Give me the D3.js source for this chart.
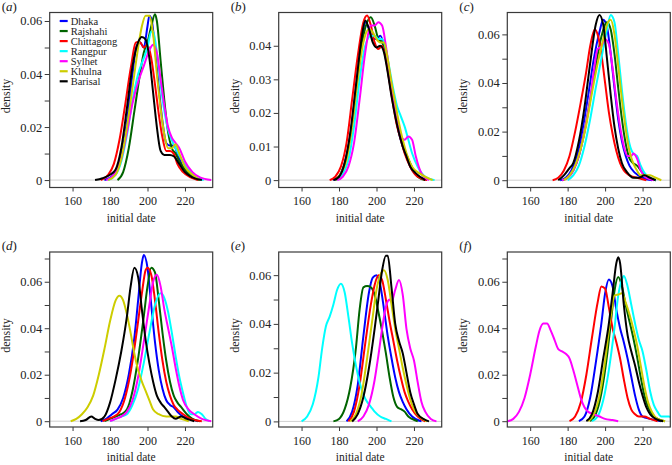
<!DOCTYPE html>
<html><head><meta charset="utf-8">
<script src="https://cdn.jsdelivr.net/npm/d3@7"></script>
<style>body{margin:0;background:#fff}svg{display:block}svg text{font-family:"Liberation Serif","DejaVu Serif",serif !important;fill:#222}</style>
</head><body><svg id="c" width="672" height="465"></svg>
<script>
// ---------------- data ----------------
const regions = ["Dhaka","Rajshahi","Chittagong","Rangpur","Sylhet","Khulna","Barisal"];
const colors = ["#0000ff","#006400","#ff0000","#00ffff","#ff00ff","#cdcd00","#000000"];
const panelLetters = ["a","b","c","d","e","f"];
const xTicks = [160,180,200,220];
const xLimits = [147.8,234.8];
const yLimits = [[-0.0028,0.0632],[-0.0022,0.0499],[-0.003,0.069],[-0.0025,0.0728],[-0.0023,0.0695],[-0.0025,0.0728]];
const yTickMax = [0.06,0.04,0.06,0.07,0.06,0.07];
const yLabelStep = [0.02,0.01,0.02,0.02,0.02,0.02];

// each panel: one [date, density] list per region, in the order of `regions`
const panelA = [
 [[177,0],[182,0.002],[186,0.009],[189,0.022],[192,0.04],[194,0.05],[196,0.052],[198,0.05],[200,0.058],[201,0.062],[202,0.061],[204,0.05],[206,0.035],[208,0.022],[210,0.014],[212,0.013],[214,0.013],[216,0.01],[219,0.005],[223,0.002],[228,0]],
 [[184,0],[187,0.003],[190,0.012],[193,0.026],[196,0.04],[198,0.048],[200,0.052],[202,0.058],[204,0.0625],[205,0.06],[207,0.045],[209,0.03],[211,0.018],[213,0.012],[215,0.01],[217,0.007],[220,0.004],[224,0.001],[228,0]],
 [[175,0],[179,0.002],[182,0.006],[185,0.015],[188,0.028],[191,0.042],[194,0.052],[196,0.052],[198,0.05],[200,0.051],[202,0.046],[204,0.036],[206,0.025],[208,0.016],[210,0.011],[212,0.011],[214,0.01],[216,0.006],[219,0.003],[223,0.001],[227,0]],
 [[179,0],[183,0.002],[186,0.007],[189,0.017],[192,0.03],[195,0.04],[198,0.046],[200,0.05],[202,0.056],[203,0.056],[205,0.048],[207,0.036],[209,0.026],[211,0.019],[213,0.015],[215,0.012],[218,0.008],[222,0.004],[226,0.001],[230,0]],
 [[178,0],[182,0.002],[186,0.008],[189,0.018],[192,0.029],[195,0.037],[198,0.043],[201,0.049],[203,0.051],[205,0.048],[207,0.038],[209,0.028],[211,0.02],[213,0.016],[215,0.014],[217,0.012],[220,0.007],[224,0.003],[228,0.001],[234,0]],
 [[179,0],[183,0.002],[186,0.008],[189,0.02],[192,0.035],[195,0.05],[197,0.058],[199,0.062],[201,0.062],[203,0.055],[205,0.04],[207,0.027],[209,0.017],[211,0.012],[213,0.012],[215,0.0135],[217,0.01],[220,0.005],[224,0.002],[228,0]],
 [[172,0],[176,0.0007],[180,0.002],[183,0.004],[186,0.012],[189,0.027],[192,0.043],[195,0.052],[197,0.054],[199,0.053],[201,0.046],[203,0.033],[205,0.02],[207,0.011],[209,0.0095],[212,0.0095],[214,0.009],[217,0.006],[220,0.003],[224,0.001],[229,0]]
];
const panelB = [
 [[177,0],[180,0.001],[183,0.005],[186,0.013],[189,0.027],[192,0.041],[194,0.047],[196,0.045],[198,0.042],[200,0.042],[202,0.043],[204,0.04],[206,0.033],[208,0.026],[210,0.02],[212,0.014],[214,0.01],[216,0.007],[219,0.003],[223,0.001],[227,0]],
 [[178,0],[181,0.002],[184,0.007],[187,0.017],[190,0.031],[193,0.043],[195,0.047],[197,0.0485],[199,0.046],[201,0.042],[203,0.041],[205,0.038],[207,0.031],[209,0.024],[211,0.018],[213,0.013],[215,0.009],[218,0.005],[222,0.001],[226,0]],
 [[175,0],[178,0.001],[181,0.004],[184,0.011],[187,0.024],[190,0.037],[193,0.047],[195,0.049],[197,0.046],[199,0.041],[201,0.039],[203,0.04],[205,0.036],[207,0.029],[209,0.022],[211,0.016],[213,0.012],[215,0.008],[218,0.004],[222,0.001],[227,0]],
 [[179,0],[182,0.002],[185,0.006],[188,0.016],[191,0.03],[194,0.04],[197,0.043],[199,0.043],[201,0.042],[203,0.042],[205,0.039],[207,0.033],[209,0.027],[211,0.022],[213,0.019],[215,0.016],[217,0.012],[219,0.008],[222,0.004],[226,0.001],[231,0]],
 [[179,0],[182,0.001],[185,0.004],[188,0.011],[191,0.024],[194,0.038],[197,0.046],[199,0.046],[201,0.047],[203,0.046],[205,0.04],[207,0.032],[209,0.025],[211,0.018],[213,0.013],[215,0.012],[217,0.013],[219,0.012],[221,0.007],[224,0.002],[228,0]],
 [[178,0],[181,0.002],[184,0.006],[187,0.016],[190,0.03],[193,0.041],[196,0.045],[198,0.044],[200,0.042],[202,0.041],[204,0.041],[206,0.036],[208,0.029],[210,0.023],[212,0.017],[214,0.012],[216,0.008],[219,0.004],[223,0.002],[230,0]],
 [[177,0],[180,0.001],[183,0.005],[186,0.014],[189,0.028],[192,0.042],[194,0.0475],[196,0.045],[198,0.041],[200,0.0395],[202,0.04],[204,0.038],[206,0.032],[208,0.025],[210,0.019],[212,0.014],[214,0.01],[216,0.007],[218,0.004],[221,0.002],[226,0]]
];
const panelC = [
 [[176,0],[179,0.001],[182,0.004],[185,0.01],[188,0.021],[191,0.035],[194,0.05],[197,0.061],[199,0.066],[201,0.063],[203,0.052],[205,0.038],[207,0.025],[209,0.016],[211,0.01],[213,0.006],[216,0.003],[220,0.001],[225,0]],
 [[177,0],[180,0.001],[183,0.004],[186,0.01],[189,0.02],[192,0.033],[195,0.047],[198,0.059],[201,0.065],[203,0.062],[205,0.052],[207,0.038],[209,0.025],[211,0.015],[213,0.009],[215,0.007],[217,0.006],[220,0.003],[223,0.001],[227,0]],
 [[172,0],[175,0.001],[178,0.004],[181,0.01],[184,0.02],[187,0.032],[190,0.045],[192,0.055],[194.5,0.062],[196,0.06],[198,0.052],[200,0.04],[202,0.028],[204,0.019],[206,0.012],[208,0.007],[210,0.004],[213,0.002],[217,0.001],[222,0]],
 [[180,0],[183,0.002],[186,0.006],[189,0.014],[192,0.025],[195,0.038],[198,0.05],[201,0.062],[203,0.068],[205,0.065],[207,0.052],[209,0.037],[211,0.024],[213,0.015],[215,0.011],[217,0.01],[219,0.006],[221,0.003],[224,0.001],[227,0]],
 [[177,0],[180,0.001],[183,0.004],[186,0.01],[189,0.02],[192,0.033],[194,0.045],[196,0.054],[198,0.055],[200,0.058],[202,0.056],[204,0.046],[206,0.033],[208,0.022],[210,0.014],[212,0.01],[214,0.01],[215,0.011],[217,0.009],[219,0.004],[222,0.001],[226,0]],
 [[178,0],[181,0.002],[184,0.006],[187,0.013],[190,0.023],[193,0.036],[196,0.048],[199,0.058],[201,0.064],[203,0.066],[205,0.06],[207,0.047],[209,0.033],[211,0.021],[213,0.012],[215,0.007],[217,0.004],[219,0.002],[222,0.002],[224,0.002],[227,0.001],[230,0]],
 [[175,0],[178,0.002],[181,0.005],[183,0.007],[186,0.016],[189,0.03],[192,0.048],[195,0.064],[197,0.068],[199,0.064],[201,0.05],[203,0.035],[205,0.022],[207,0.013],[209,0.007],[212,0.003],[215,0.001],[218,0.001],[221,0.002],[224,0.001],[227,0]]
];
const panelD = [
 [[175,0],[178,0.001],[181,0.003],[184,0.005],[187,0.01],[190,0.02],[193,0.036],[195,0.052],[197,0.068],[198,0.0715],[200,0.066],[202,0.05],[204,0.034],[206,0.022],[208,0.014],[210,0.009],[212,0.007],[214,0.006],[216,0.004],[219,0.002],[223,0.001],[227,0]],
 [[177,0],[180,0.001],[183,0.002],[186,0.003],[189,0.005],[192,0.013],[195,0.027],[198,0.045],[200,0.058],[202,0.066],[204,0.064],[206,0.052],[208,0.038],[210,0.026],[212,0.017],[214,0.011],[216,0.008],[218,0.006],[221,0.003],[224,0.001],[228,0]],
 [[176,0],[179,0.001],[182,0.002],[185,0.004],[188,0.01],[191,0.021],[194,0.037],[197,0.055],[199,0.065],[200,0.066],[202,0.063],[204,0.052],[206,0.038],[208,0.026],[210,0.017],[212,0.011],[214,0.007],[216,0.005],[219,0.003],[223,0.001],[229,0]],
 [[180,0],[183,0.001],[186,0.002],[189,0.003],[192,0.007],[195,0.014],[198,0.025],[201,0.038],[204,0.05],[207,0.055],[209,0.053],[211,0.047],[213,0.038],[215,0.028],[217,0.019],[219,0.012],[221,0.006],[223,0.003],[225,0.003],[227,0.004],[229,0.003],[231,0.001],[233,0]],
 [[180,0],[183,0.001],[186,0.002],[189,0.004],[192,0.009],[195,0.019],[198,0.034],[201,0.05],[203,0.06],[205,0.063],[207,0.058],[209,0.048],[211,0.04],[213,0.032],[215,0.023],[217,0.015],[219,0.009],[222,0.005],[225,0.003],[229,0.001],[234,0]],
 [[159,0],[162,0.001],[165,0.003],[168,0.006],[171,0.011],[174,0.02],[177,0.031],[180,0.043],[183,0.052],[185,0.054],[187,0.052],[189,0.046],[191,0.038],[193,0.029],[195,0.022],[197,0.017],[199,0.013],[201,0.009],[203,0.005],[206,0.003],[210,0.002],[215,0.002],[218,0.001],[222,0]],
 [[164,0],[167,0.0005],[170,0.002],[172,0.001],[174,0.0005],[177,0.002],[180,0.008],[183,0.018],[186,0.03],[189,0.045],[191,0.058],[193,0.066],[195,0.062],[197,0.048],[199,0.035],[201,0.025],[203,0.017],[205,0.011],[207,0.008],[209,0.006],[211,0.004],[213,0.002],[215,0.001],[218,0.002],[221,0.001],[225,0]]
];
const panelE = [
 [[184,0],[187,0.004],[190,0.015],[193,0.035],[196,0.053],[198,0.059],[200,0.06],[202,0.056],[204,0.046],[206,0.035],[208,0.026],[210,0.018],[212,0.012],[214,0.008],[216,0.005],[219,0.002],[224,0]],
 [[177,0],[180,0.001],[183,0.005],[186,0.014],[189,0.03],[191,0.046],[193,0.055],[195,0.0555],[197,0.055],[199,0.052],[201,0.045],[203,0.037],[205,0.028],[207,0.018],[209,0.01],[211,0.006],[213,0.005],[215,0.004],[217,0.002],[219,0.001],[222,0]],
 [[185,0],[188,0.004],[191,0.015],[194,0.032],[197,0.048],[199,0.056],[201,0.06],[203,0.058],[205,0.05],[207,0.041],[209,0.033],[211,0.025],[213,0.018],[215,0.012],[217,0.008],[219,0.005],[222,0.002],[226,0]],
 [[160,0],[163,0.002],[166,0.007],[169,0.018],[171,0.03],[173,0.039],[175,0.043],[177,0.048],[179,0.054],[181,0.0565],[183,0.053],[185,0.043],[187,0.032],[189,0.023],[191,0.016],[193,0.011],[195,0.008],[197,0.006],[199,0.004],[202,0.002],[205,0.001],[208,0]],
 [[190,0],[193,0.002],[196,0.007],[199,0.017],[201,0.027],[203,0.038],[205,0.047],[207,0.05],[208,0.049],[210,0.054],[212,0.058],[214,0.052],[216,0.038],[218,0.03],[220,0.025],[222,0.016],[224,0.008],[226,0.004],[229,0.001],[232,0]],
 [[186,0],[189,0.003],[192,0.011],[195,0.026],[198,0.043],[200,0.054],[202,0.06],[204,0.062],[206,0.058],[208,0.048],[210,0.038],[212,0.03],[214,0.022],[216,0.015],[218,0.009],[220,0.005],[223,0.002],[227,0]],
 [[187,0],[190,0.003],[193,0.01],[196,0.022],[199,0.038],[201,0.05],[203,0.062],[205,0.068],[206,0.068],[208,0.055],[210,0.04],[212,0.033],[214,0.028],[216,0.02],[218,0.012],[220,0.007],[222,0.003],[225,0.001],[228,0]]
];
const panelF = [
 [[186,0],[189,0.002],[192,0.01],[195,0.025],[198,0.042],[200,0.055],[202,0.061],[204,0.058],[206,0.048],[208,0.04],[210,0.034],[212,0.027],[214,0.019],[216,0.011],[218,0.005],[220,0.002],[224,0.001],[230,0]],
 [[192,0],[195,0.003],[198,0.012],[201,0.028],[203,0.042],[205,0.056],[207,0.062],[209,0.058],[211,0.05],[213,0.043],[215,0.036],[217,0.028],[219,0.019],[221,0.011],[223,0.006],[225,0.003],[228,0.001],[232,0]],
 [[181,0],[184,0.002],[187,0.008],[190,0.02],[193,0.036],[196,0.051],[198,0.058],[200,0.057],[202,0.049],[204,0.04],[206,0.034],[208,0.027],[210,0.018],[212,0.01],[214,0.005],[216,0.003],[218,0.002],[221,0.002],[224,0.001],[228,0]],
 [[193,0],[196,0.002],[199,0.009],[202,0.022],[205,0.04],[207,0.054],[209,0.061],[210,0.0625],[212,0.058],[214,0.05],[216,0.042],[218,0.035],[220,0.03],[222,0.022],[224,0.013],[226,0.007],[228,0.004],[230,0.002],[232,0.002],[234,0.002],[236,0.0015]],
 [[148,0],[151,0.001],[154,0.004],[157,0.01],[160,0.02],[163,0.032],[165,0.039],[167,0.042],[169,0.042],[171,0.039],[173,0.035],[175,0.031],[177,0.03],[179,0.029],[181,0.027],[183,0.022],[185,0.016],[187,0.01],[189,0.006],[191,0.004],[194,0.003],[197,0.002],[200,0.001],[204,0.0005],[207,0]],
 [[191,0],[194,0.003],[197,0.011],[200,0.026],[203,0.045],[205,0.054],[207,0.0545],[209,0.055],[211,0.051],[213,0.046],[215,0.04],[217,0.033],[219,0.024],[221,0.015],[223,0.008],[225,0.004],[228,0.001],[232,0]],
 [[190,0],[193,0.003],[196,0.012],[199,0.027],[202,0.042],[204,0.055],[206,0.068],[207,0.0705],[208,0.068],[210,0.05],[212,0.037],[214,0.03],[216,0.024],[218,0.017],[220,0.011],[222,0.006],[224,0.003],[227,0.001],[231,0]]
];
const panels = [panelA,panelB,panelC,panelD,panelE,panelF];

// ---------------- layout ----------------
const colLeft = [49.7, 278.7, 507.3];
const rowTop = [12.5, 252];
const boxW = 163, boxH = 175;
const FONT = "'Liberation Serif','DejaVu Serif',serif";

const svg = d3.select("#c");
panels.forEach((series, i) => {
  const col = i % 3, row = Math.floor(i / 3);
  const L = colLeft[col], T = rowTop[row];
  const g = svg.append("g").attr("transform", `translate(${L},${T})`).attr("font-family", FONT);
  const x = d3.scaleLinear().domain(xLimits).range([0, boxW]);
  const y = d3.scaleLinear().domain(yLimits[i]).range([boxH, 0]);

  const cid = "clip" + i;
  g.append("clipPath").attr("id", cid).append("rect").attr("width", boxW).attr("height", boxH);

  // zero reference line
  g.append("line").attr("x1", 0).attr("x2", boxW).attr("y1", y(0)).attr("y2", y(0))
    .attr("stroke", "#cfcfcf").attr("stroke-width", 1);

  const line = d3.line().x(d => x(d[0])).y(d => y(d[1])).curve(d3.curveMonotoneX);
  const plot = g.append("g").attr("clip-path", `url(#${cid})`);
  series.forEach((pts, k) => {
    plot.append("path").attr("d", line(pts)).attr("fill", "none")
      .attr("stroke", colors[k]).attr("stroke-width", 2).attr("stroke-linejoin", "round");
  });

  // box
  g.append("rect").attr("width", boxW).attr("height", boxH).attr("fill", "none")
    .attr("stroke", "#3a3a3a").attr("stroke-width", 1.2);

  // y axis
  const yt = d3.range(0, yTickMax[i] + 1e-9, 0.01).map(v => +v.toFixed(2));
  const step = yLabelStep[i];
  const ya = d3.axisLeft(y).tickValues(yt).tickSize(5).tickPadding(2.5)
    .tickFormat(v => (Math.abs(v / step - Math.round(v / step)) < 1e-6) ? (v === 0 ? "0" : d3.format(".2f")(v)) : "");
  const yg = g.append("g").call(ya).attr("font-family", FONT);
  yg.select(".domain").remove();
  yg.selectAll("line").attr("stroke", "#3a3a3a");
  yg.selectAll("text").attr("font-size", 12.5).attr("fill", "#222");

  // x axis
  const xa = d3.axisBottom(x).tickValues(xTicks).tickSize(4).tickPadding(5);
  const xg = g.append("g").attr("transform", `translate(0,${boxH})`).call(xa).attr("font-family", FONT);
  xg.select(".domain").remove();
  xg.selectAll("line").attr("stroke", "#3a3a3a");
  xg.selectAll("text").attr("font-size", 12).attr("fill", "#222");

  // titles
  g.append("text").attr("x", boxW / 2).attr("y", boxH + 34).attr("text-anchor", "middle")
    .attr("font-size", 11.5).text("initial date");
  g.append("text").attr("transform", `translate(-40,${boxH / 2 - 4}) rotate(-90)`).attr("text-anchor", "middle")
    .attr("font-size", 12).text("density");
  const lab = g.append("text").attr("x", -48).attr("y", -2).attr("font-size", 13);
  lab.append("tspan").text("(");
  lab.append("tspan").attr("font-style", "italic").text(panelLetters[i]);
  lab.append("tspan").text(")");

  // legend in first panel
  if (i === 0) {
    const lg = g.append("g").attr("transform", "translate(10,8.5)");
    regions.forEach((r, k) => {
      const yy = k * 10.05;
      lg.append("line").attr("x1", 0).attr("x2", 8).attr("y1", yy).attr("y2", yy)
        .attr("stroke", colors[k]).attr("stroke-width", 2.2);
      lg.append("text").attr("x", 11).attr("y", yy + 3.5).attr("font-size", 10.5).text(r);
    });
  }
});
</script></body></html>
